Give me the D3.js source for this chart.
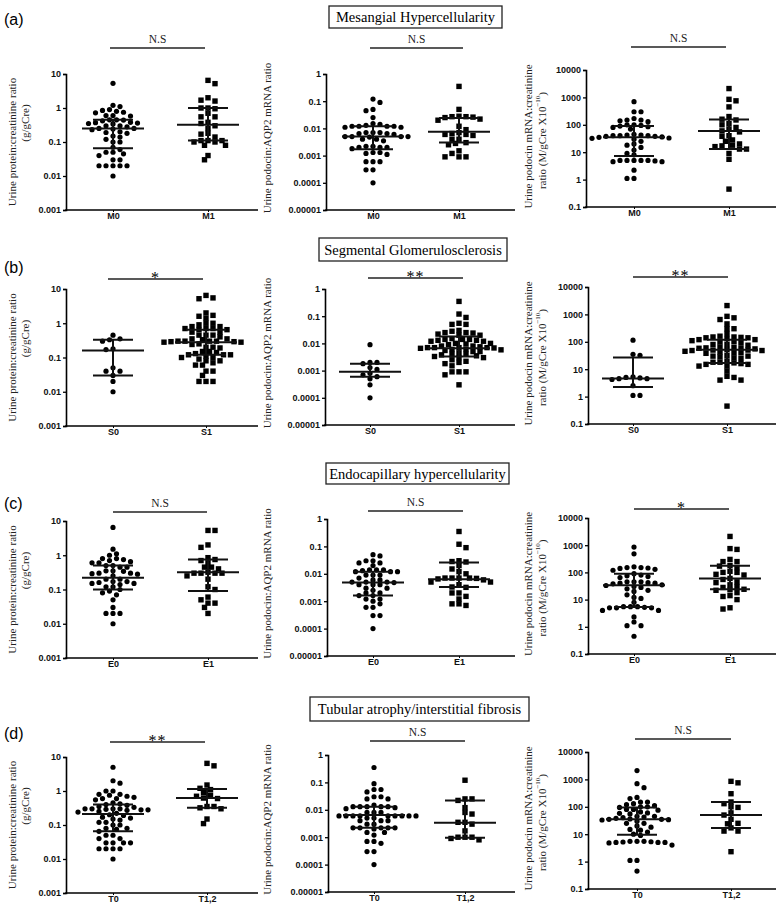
<!DOCTYPE html>
<html><head><meta charset="utf-8">
<script src="https://cdn.jsdelivr.net/npm/d3@7"></script>
<style>body{margin:0;background:#fff}</style>
</head><body>
<svg id="c" width="780" height="910"></svg>
<script>
// ---------- DATA ----------
const rowCats = [['M0','M1'],['S0','S1'],['E0','E1'],['T0','T1,2']];
const rowTitles = ['Mesangial Hypercellularity','Segmental Glomerulosclerosis','Endocapillary hypercellularity','Tubular atrophy/interstitial fibrosis'];
const rowLabels = ['(a)','(b)','(c)','(d)'];
const sigLabels = [['N.S','N.S','N.S'],['*','**','**'],['N.S','N.S','*'],['**','N.S','N.S']];

const col1Ticks = [0.001,0.01,0.1,1,10];
const col1TickLabels = ['0.001','0.01','0.1','1','10'];
const col2Ticks = [0.00001,0.0001,0.001,0.01,0.1,1];
const col2TickLabels = ['0.00001','0.0001','0.001','0.01','0.1','1'];
const col3Ticks = [0.1,1,10,100,1000,10000];
const col3TickLabels = ['0.1','1','10','100','1000','10000'];

// (a) Mesangial
const a1_M0 = [5.3,1.2,1.1,0.9,0.85,0.8,0.75,0.72,0.6,0.6,0.58,0.45,0.45,0.44,0.42,0.38,0.37,0.36,0.35,0.34,0.3,0.3,0.28,0.25,0.25,0.24,0.23,0.2,0.19,0.18,0.15,0.14,0.12,0.1,0.1,0.07,0.06,0.05,0.05,0.045,0.04,0.03,0.03,0.02,0.02,0.02,0.02,0.02,0.01];
const a1_M1 = [6.5,5.2,2.0,1.6,1.7,1.0,1.0,0.95,0.7,0.55,0.55,0.38,0.35,0.3,0.25,0.18,0.17,0.14,0.11,0.11,0.11,0.1,0.1,0.08,0.08,0.04,0.03];
const a2_M0 = [0.12,0.09,0.05,0.045,0.025,0.015,0.014,0.013,0.012,0.012,0.012,0.012,0.011,0.011,0.007,0.007,0.007,0.0065,0.0065,0.006,0.005,0.005,0.005,0.005,0.0048,0.004,0.004,0.0035,0.0022,0.0022,0.002,0.002,0.002,0.0018,0.0013,0.0013,0.0012,0.0011,0.0006,0.0006,0.0006,0.0003,0.0003,0.0001];
const a2_M1 = [0.35,0.05,0.028,0.027,0.027,0.026,0.025,0.022,0.02,0.012,0.009,0.007,0.0065,0.006,0.006,0.0055,0.004,0.004,0.003,0.0028,0.0025,0.0015,0.0012,0.0009,0.0009,0.0009];
const a3_M0 = [700,300,300,170,150,150,140,130,100,100,95,90,85,80,70,45,42,42,40,40,40,38,38,36,35,33,32,30,25,20,18,15,12,9,8,5,5,5,5,5,4.8,4.5,4.5,2.2,1.1,1.1];
const a3_M1 = [2100,850,750,450,200,160,150,110,100,80,70,60,55,40,38,28,25,20,18,17,16,13,13,9,5.5,0.45];
// (b) Segmental
const b1_S0 = [0.45,0.35,0.33,0.3,0.18,0.17,0.05,0.04,0.04,0.03,0.02,0.01];
const b1_S1 = [6.5,5.5,5.2,2.0,1.7,1.6,1.4,1.0,1.0,0.9,0.8,0.8,0.7,0.7,0.7,0.65,0.65,0.55,0.55,0.45,0.45,0.45,0.4,0.35,0.35,0.33,0.3,0.3,0.3,0.3,0.29,0.29,0.28,0.28,0.25,0.24,0.2,0.2,0.19,0.15,0.15,0.14,0.13,0.12,0.12,0.12,0.11,0.1,0.1,0.09,0.08,0.08,0.07,0.06,0.06,0.04,0.04,0.03,0.02,0.02,0.02];
const b2_S0 = [0.009,0.002,0.002,0.0018,0.0013,0.0011,0.0008,0.0007,0.0006,0.0005,0.0003,0.0001];
const b2_S1 = [0.35,0.12,0.09,0.055,0.05,0.05,0.03,0.028,0.025,0.025,0.024,0.022,0.02,0.02,0.015,0.014,0.014,0.014,0.013,0.013,0.012,0.012,0.01,0.01,0.0095,0.009,0.008,0.008,0.0075,0.007,0.007,0.007,0.007,0.0068,0.0066,0.006,0.006,0.0058,0.0055,0.005,0.005,0.0045,0.004,0.004,0.0038,0.0035,0.0033,0.003,0.003,0.0025,0.0022,0.002,0.0018,0.0015,0.0009,0.0009,0.0009,0.0007,0.0003];
const b3_S0 = [115,35,32,5.3,5,4.8,4.5,4.5,4.2,2.5,1.1,1.1];
const b3_S1 = [2100,850,750,650,450,300,300,200,160,150,150,145,140,140,130,120,120,110,100,100,95,80,80,75,65,62,60,60,58,55,52,50,50,48,48,45,42,40,40,38,32,30,30,28,26,25,20,18,18,17,16,15,15,13,13,8.5,5.5,5,4,4,0.45];
// (c) Endocapillary
const c1_E0 = [6.5,1.5,1.1,1.0,0.8,0.8,0.75,0.7,0.65,0.6,0.6,0.5,0.5,0.45,0.45,0.35,0.35,0.34,0.3,0.3,0.29,0.28,0.25,0.2,0.2,0.17,0.17,0.16,0.15,0.15,0.14,0.12,0.12,0.1,0.09,0.08,0.07,0.05,0.03,0.02,0.02,0.02,0.01];
const c1_E1 = [5.3,5.3,2.0,1.7,0.85,0.75,0.7,0.6,0.45,0.45,0.4,0.32,0.3,0.3,0.3,0.3,0.25,0.2,0.12,0.1,0.06,0.05,0.04,0.04,0.03,0.02];
const c2_E0 = [0.05,0.045,0.03,0.03,0.025,0.025,0.02,0.014,0.014,0.014,0.013,0.012,0.012,0.012,0.009,0.009,0.009,0.007,0.006,0.006,0.005,0.005,0.005,0.0048,0.004,0.004,0.004,0.003,0.003,0.0025,0.002,0.002,0.0016,0.0016,0.0012,0.0012,0.001,0.0008,0.0006,0.0006,0.0003,0.0003,0.0001];
const c2_E1 = [0.35,0.12,0.09,0.03,0.028,0.027,0.02,0.015,0.012,0.01,0.007,0.007,0.007,0.007,0.0068,0.0065,0.006,0.005,0.005,0.004,0.0033,0.0032,0.002,0.002,0.0015,0.0012,0.0008,0.0008,0.0007];
const c3_E0 = [850,480,160,150,150,145,140,130,120,90,80,75,70,65,45,45,45,42,40,40,38,35,33,30,28,25,22,20,15,12,11,8,5.5,5.5,5.5,5.2,5,5,5,4,4,2.3,1.5,1.1,1.1,0.45];
const c3_E1 = [2100,750,700,300,250,250,180,170,150,110,100,100,85,80,60,55,45,42,35,30,28,24,23,22,18,14,13,10,5,4.5];
// (d) Tubular
const d1_T0 = [5,2,1.7,1.0,1.0,0.8,0.8,0.75,0.7,0.65,0.6,0.6,0.55,0.45,0.42,0.4,0.38,0.35,0.33,0.3,0.3,0.3,0.3,0.29,0.28,0.28,0.27,0.25,0.24,0.22,0.2,0.19,0.17,0.16,0.15,0.14,0.12,0.12,0.1,0.1,0.08,0.08,0.075,0.065,0.05,0.05,0.04,0.04,0.03,0.03,0.03,0.03,0.02,0.02,0.02,0.02,0.01];
const d1_T12 = [6.5,5.5,1.5,1.2,1.1,0.9,0.75,0.7,0.62,0.6,0.35,0.35,0.32,0.3,0.15,0.11];
const d2_T0 = [0.35,0.09,0.055,0.055,0.045,0.03,0.03,0.025,0.025,0.015,0.013,0.013,0.013,0.013,0.013,0.012,0.011,0.008,0.008,0.008,0.006,0.006,0.006,0.006,0.006,0.006,0.006,0.006,0.006,0.005,0.005,0.004,0.004,0.004,0.003,0.003,0.0022,0.0022,0.0022,0.0022,0.0022,0.002,0.0015,0.0015,0.0012,0.0007,0.0007,0.0006,0.0003,0.0003,0.0001];
const d2_T12 = [0.12,0.025,0.025,0.022,0.012,0.008,0.007,0.0035,0.0035,0.003,0.0017,0.001,0.001,0.001,0.0009,0.0008];
const d3_T0 = [2100,700,500,220,200,150,150,130,120,110,100,100,95,80,80,75,65,60,58,55,45,45,42,40,38,36,35,35,34,33,30,25,25,20,18,15,14,12,10,9,5.5,5.5,5.5,5.3,5.2,5,5,5,4.8,4,1.1,1.1,0.45];
const d3_T12 = [850,750,300,150,130,100,95,60,50,35,25,24,17,13,13,2.3];

// median, Q1, Q3 per group
const a1_stats = [[0.25,0.065,0.45],[0.32,0.11,1.0]];
const a2_stats = [[0.005,0.0017,0.012],[0.0075,0.003,0.024]];
const a3_stats = [[35,7.3,90],[60,13,155]];
const b1_stats = [[0.16,0.03,0.33],[0.28,0.12,0.65]];
const b2_stats = [[0.0009,0.0006,0.0018],[0.0066,0.0033,0.018]];
const b3_stats = [[4.6,2.26,27],[51,17,120]];
const c1_stats = [[0.22,0.1,0.5],[0.32,0.09,0.75]];
const c2_stats = [[0.0048,0.0016,0.012],[0.0063,0.0033,0.026]];
const c3_stats = [[34,5.4,90],[60,24,175]];
const d1_stats = [[0.21,0.065,0.4],[0.62,0.32,1.15]];
const d2_stats = [[0.0064,0.0022,0.013],[0.0034,0.00095,0.022]];
const d3_stats = [[35,9.5,95],[50,17,150]];

const panelData = [
  [[a1_M0,a1_M1,a1_stats],[a2_M0,a2_M1,a2_stats],[a3_M0,a3_M1,a3_stats]],
  [[b1_S0,b1_S1,b1_stats],[b2_S0,b2_S1,b2_stats],[b3_S0,b3_S1,b3_stats]],
  [[c1_E0,c1_E1,c1_stats],[c2_E0,c2_E1,c2_stats],[c3_E0,c3_E1,c3_stats]],
  [[d1_T0,d1_T12,d1_stats],[d2_T0,d2_T12,d2_stats],[d3_T0,d3_T12,d3_stats]]
];

// ---------- LAYOUT ----------
const SERIF = "'Liberation Serif','Times New Roman',serif";
const SANS = "'Liberation Sans',Arial,sans-serif";
const yTop = [[74,74,70],[289,289,287],[521,519,518],[757,755,752]];
const yBot = [[210,210,207],[426,425,424],[658,656,654],[893,892,889]];
const axX = [[66,326,586],[66,325,588],[66,327,588],[66,328,588]];
const axEnd = [258,515,776];
const catPos = [[[113,208],[373,459],[634,729]],[[113,206],[370,459],[633,727]],[[113,208],[373,459],[634,730]],[[113,207],[374,465],[637,731]]];
const sigY = [[48,48,47],[279,278,277],[512,511,509],[742,741,739]];
const sigX = [[[110,205],[370,463],[631,726]],[[108,203],[368,463],[633,728]],[[113,207],[368,463],[634,729]],[[110,205],[370,465],[635,731]]];
const titleBox = [[329,6,502,28],[319,238,507,261],[326,463,509,484],[310,697,529,721]];
const labelBase = [25,273,509,739];
const colCfg = [
  {dom:[0.001,10], ticks:col1Ticks, labels:col1TickLabels, titles:['Urine protein:creatinine ratio','(g/gCre)'], tx:[12,25], toff:[0,-19]},
  {dom:[0.00001,1], ticks:col2Ticks, labels:col2TickLabels, titles:['Urine podocin:AQP2 mRNA ratio'], tx:[267], toff:[-4]},
  {dom:[0.1,10000], ticks:col3Ticks, labels:col3TickLabels, titles:['Urine podocin mRNA:creatinine','ratio (M/gCre X10'], tx:[528,542], toff:[-2,2]}
];

const svg = d3.select('#c');

function swarm(vals, y){
  const dx = 7.0, dy = 4.8;
  const pts = vals.map(v => ({v, y: y(v)})).sort((a,b) => a.y - b.y);
  const placed = [];
  let flip = 1;
  pts.forEach(p => {
    let best = null;
    for (let k = 0; k < 80 && best === null; k++){
      const c = k === 0 ? [0] : [flip*k*dx/2, -flip*k*dx/2];
      for (const o of c){
        if (!placed.some(q => ((q.o-o)/dx)**2 + ((q.y-p.y)/dy)**2 < 0.97)) { best = o; break; }
      }
    }
    if (best !== 0) flip = -flip;
    p.o = best; placed.push(p);
  });
  return placed;
}

for (let r = 0; r < 4; r++){
  svg.append('text').attr('x',4).attr('y',labelBase[r]).attr('font-family',SANS).attr('font-size',16).text(rowLabels[r]);
  const tb = titleBox[r];
  svg.append('rect').attr('x',tb[0]).attr('y',tb[1]).attr('width',tb[2]-tb[0]).attr('height',tb[3]-tb[1])
    .attr('fill','none').attr('stroke','#222').attr('stroke-width',1.3);
  svg.append('text').attr('x',(tb[0]+tb[2])/2).attr('y',(tb[1]+tb[3])/2).attr('dy','0.35em')
    .attr('text-anchor','middle').attr('font-family',SERIF).attr('font-size',14.5).text(rowTitles[r]);

  for (let c = 0; c < 3; c++){
    const cfg = colCfg[c];
    const [g0, g1, stats] = panelData[r][c];
    const y = d3.scaleLog().domain(cfg.dom).range([yBot[r][c], yTop[r][c]]);
    const x = d3.scalePoint().domain(rowCats[r]).range(catPos[r][c]);
    const g = svg.append('g');

    const ya = g.append('g').attr('transform',`translate(${axX[r][c]},0)`)
      .call(d3.axisLeft(y).tickValues(cfg.ticks).tickFormat((d,i)=>cfg.labels[i]).tickSizeOuter(0).tickSize(3).tickPadding(2));
    ya.select('.domain').attr('stroke-width',1.6);
    ya.selectAll('.tick line').attr('stroke-width',1.3);
    ya.selectAll('text').attr('font-family',SANS).attr('font-size',9).attr('font-weight','bold').attr('fill','#111');

    g.append('line').attr('x1',axX[r][c]-0.8).attr('x2',axEnd[c]).attr('y1',yBot[r][c]).attr('y2',yBot[r][c])
      .attr('stroke','#000').attr('stroke-width',1.6);
    const xa = g.append('g').attr('transform',`translate(0,${yBot[r][c]})`)
      .call(d3.axisBottom(x).tickSize(2).tickPadding(1));
    xa.select('.domain').remove();
    xa.selectAll('text').attr('font-family',SANS).attr('font-size',9).attr('font-weight','bold').attr('fill','#111');

    const cy = (yTop[r][c]+yBot[r][c])/2;
    cfg.titles.forEach((t,i) => {
      const tx = g.append('text').attr('transform',`translate(${cfg.tx[i]},${cy+cfg.toff[i]}) rotate(-90)`)
        .attr('text-anchor','middle').attr('dominant-baseline','central')
        .attr('font-family',SERIF).attr('font-size',11).attr('fill','#222').text(t);
      if (c === 2 && i === 1){
        tx.append('tspan').attr('font-size',7).attr('dy',-4).text('−10');
        tx.append('tspan').attr('dy',4).text(')');
      }
    });

    const sx = sigX[r][c];
    g.append('line').attr('x1',sx[0]).attr('x2',sx[1]).attr('y1',sigY[r][c]).attr('y2',sigY[r][c]).attr('stroke','#222').attr('stroke-width',1.4);
    const lab = sigLabels[r][c];
    if (lab === 'N.S'){
      g.append('text').attr('x',(sx[0]+sx[1])/2).attr('y',sigY[r][c]-5).attr('text-anchor','middle')
        .attr('font-family',SERIF).attr('font-size',11.5).attr('fill','#222').text(lab);
    } else {
      g.append('text').attr('x',(sx[0]+sx[1])/2).attr('y',sigY[r][c]+4).attr('text-anchor','middle')
        .attr('font-family',SERIF).attr('font-size',16).attr('letter-spacing',1).attr('fill','#000').text(lab);
    }

    [g0, g1].forEach((vals, gi) => {
      const cx = x(rowCats[r][gi]);
      const pts = swarm(vals, y);
      if (gi === 0){
        g.selectAll(null).data(pts).enter().append('circle')
          .attr('cx', d => cx + d.o).attr('cy', d => d.y).attr('r',2.6).attr('fill','#000');
      } else {
        g.selectAll(null).data(pts).enter().append('rect')
          .attr('x', d => cx + d.o - 2.7).attr('y', d => d.y - 2.7).attr('width',5.4).attr('height',5.4).attr('fill','#000');
      }
      const [med, q1, q3] = stats[gi];
      const sg = g.append('g').attr('stroke','#111').attr('stroke-width',2);
      sg.append('line').attr('x1',cx-31).attr('x2',cx+31).attr('y1',y(med)).attr('y2',y(med));
      sg.append('line').attr('x1',cx-20).attr('x2',cx+20).attr('y1',y(q1)).attr('y2',y(q1));
      sg.append('line').attr('x1',cx-20).attr('x2',cx+20).attr('y1',y(q3)).attr('y2',y(q3));
      sg.append('line').attr('x1',cx).attr('x2',cx).attr('y1',y(q1)).attr('y2',y(q3));
    });
  }
}
</script>
</body></html>
